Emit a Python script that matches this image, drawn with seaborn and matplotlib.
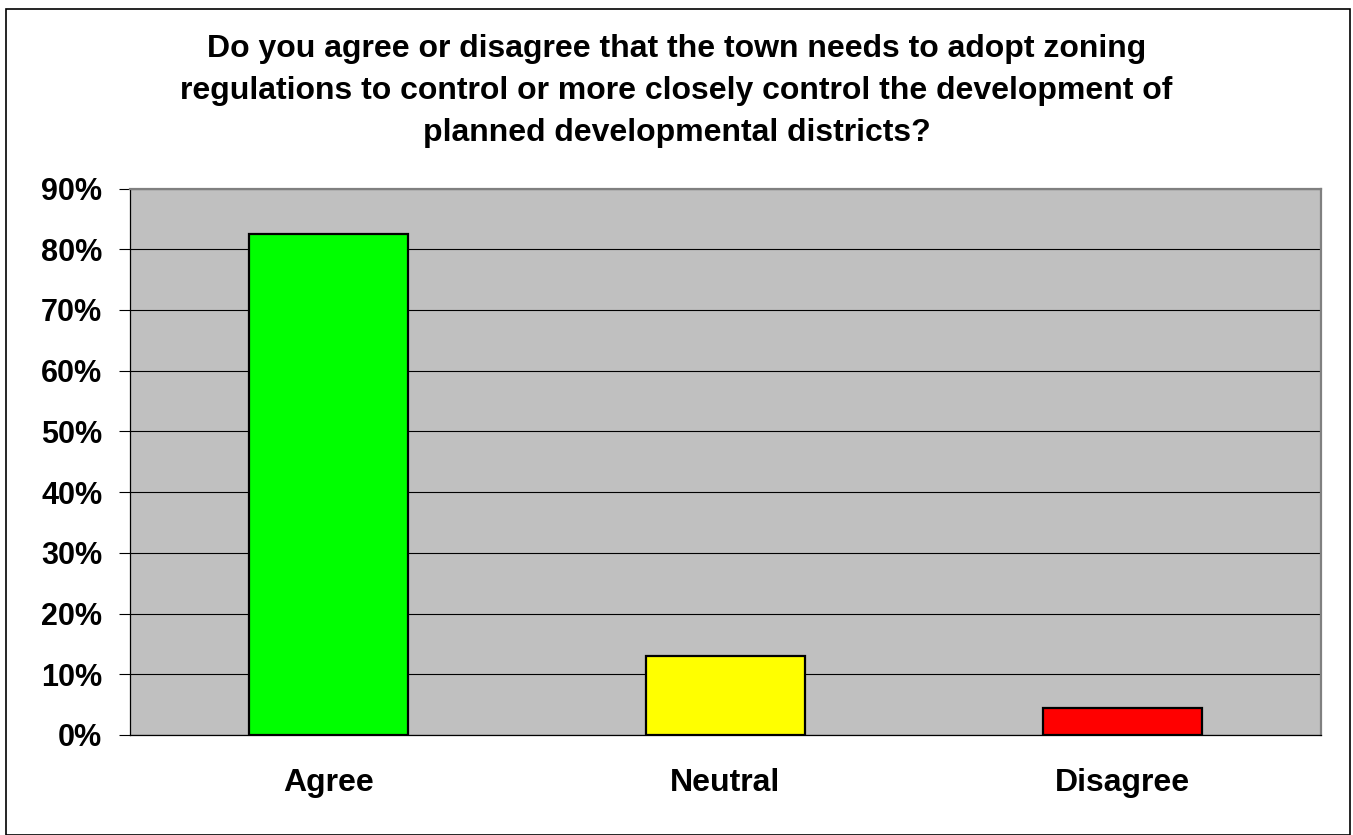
import matplotlib
matplotlib.use("Agg")
import matplotlib.pyplot as plt
import seaborn as sns
import pandas as pd
from matplotlib.patches import Rectangle
from matplotlib.ticker import FuncFormatter, FixedLocator

categories = ["Agree", "Neutral", "Disagree"]
percent = [82.5, 13.0, 4.4]
bar_colors = ["#00FF00", "#FFFF00", "#FF0000"]
y_ticks = [0, 10, 20, 30, 40, 50, 60, 70, 80, 90]
title = ("Do you agree or disagree that the town needs to adopt zoning\n"
         "regulations to control or more closely control the development of\n"
         "planned developmental districts?")

sns.set_style("white")
plt.rcParams["font.family"] = ["Liberation Sans", "DejaVu Sans"]
plt.rcParams["text.color"] = "black"
plt.rcParams["xtick.color"] = "black"
plt.rcParams["ytick.color"] = "black"

df = pd.DataFrame({"response": categories, "pct": percent})

fig = plt.figure(figsize=(13.53, 8.35), dpi=100)
ax = fig.add_axes([130 / 1353, 1 - 735 / 835, (1321 - 130) / 1353, (735 - 188.5) / 835])

sns.barplot(data=df, x="response", y="pct", hue="response", order=categories,
            hue_order=categories, palette=bar_colors, saturation=1, dodge=False,
            width=0.4, edgecolor="black", linewidth=1.6, legend=False, ax=ax,
            zorder=3)

ax.set_facecolor("#C0C0C0")
ax.set_ylim(0, 90)
ax.set_xlim(-0.5, len(categories) - 0.5)
ax.set_yticks(y_ticks)
ax.yaxis.set_major_formatter(FuncFormatter(lambda v, p: f"{v:.0f}%"))
ax.yaxis.grid(True, color="#000000", linewidth=0.8, zorder=1)
ax.set_axisbelow(True)

ax.xaxis.set_minor_locator(FixedLocator([-0.5, 0.5, 1.5, 2.5]))
ax.tick_params(axis="x", which="major", length=0, pad=24, labelsize=23,
               labelcolor="black")
ax.tick_params(axis="x", which="minor", length=8, width=0.8, color="black", direction="out")
ax.tick_params(axis="y", which="major", length=8, width=0.8, color="black",
               direction="out", pad=12, labelsize=22, left=True, labelcolor="black")
for lab in ax.get_xticklabels() + ax.get_yticklabels():
    lab.set_fontweight("bold")

ax.set_xlabel("")
ax.set_ylabel("")

for side in ("left", "bottom"):
    ax.spines[side].set_color("black")
    ax.spines[side].set_linewidth(0.9)
for side in ("top", "right"):
    ax.spines[side].set_visible(True)
    ax.spines[side].set_color("#808080")
    ax.spines[side].set_linewidth(1.6)

fig.text(0.5, 1 - 91 / 835, title, ha="center", va="center", fontsize=23,
         fontweight="bold", linespacing=1.5, color="black")

fig.patches.append(Rectangle((6 / 1353, 0), (1350 - 6) / 1353, 1 - 9 / 835,
                             transform=fig.transFigure, fill=False,
                             edgecolor="black", linewidth=1.2))

fig.savefig("out.png", dpi=100)
